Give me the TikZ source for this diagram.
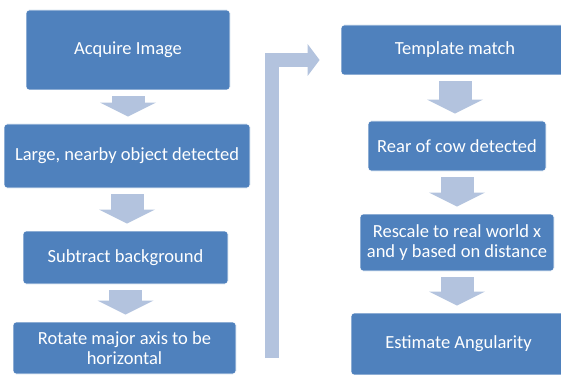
\documentclass[tikz,border=0pt]{standalone}
\usepackage{fontspec}
\setmainfont{Carlito}
\usetikzlibrary{arrows.meta}

\definecolor{boxblue}{RGB}{79,129,189}
\definecolor{arrowblue}{RGB}{179,195,222}

\tikzset{
	stepbox/.style={draw=white, line width=0.8pt, fill=boxblue, rounded corners=3pt, text=white, align=center, inner sep=0pt, font=\fontsize{18.5}{20.5}\selectfont},
	downarrow/.style={draw=arrowblue, line width=33pt, -{Triangle[length=14pt,width=56pt,line width=0pt]}, shorten <=6pt, shorten >=7pt},
	bentarrow/.style={draw=arrowblue, line width=14pt, line join=miter, -{Triangle[length=12pt,width=32pt,line width=0pt]}, shorten >=21pt}
}

\begin{document}
\begin{tikzpicture}[x=1pt,y=-1pt]
		\useasboundingbox (0,0) rectangle (561,374);
		\clip (0,0) rectangle (561,374);
		
		%left column
		\node[stepbox, minimum width=204pt, minimum height=80pt] (acquire) at (128,50) {Acquire Image};
		\node[stepbox, minimum width=246pt, minimum height=64pt] (nearby) at (127,156) {Large, nearby object detected};
		\node[stepbox, minimum width=205pt, minimum height=53pt] (subtract) at (125.5,257.5) {Subtract background};
		\node[stepbox, minimum width=223pt, minimum height=52pt] (rotate) at (124.5,348) {Rotate major axis to be\\horizontal};
		
		%right column
		\node[stepbox, minimum width=228pt, minimum height=50pt] (template) at (455,50) {Template match};
		\node[stepbox, minimum width=178pt, minimum height=50pt] (rear) at (457,146) {Rear of cow detected};
		\node[stepbox, minimum width=194pt, minimum height=57pt] (rescale) at (457,242.5) {Rescale to real world x\\and y based on distance};
		\node[stepbox, minimum width=215pt, minimum height=62pt] (angularity) at (458.5,344) {Estimate Angularity};
		
		%arrows down
		\draw[downarrow] (acquire.south) -- (acquire.south |- nearby.north);
		\draw[downarrow] (nearby.south) -- (nearby.south |- subtract.north);
		\draw[downarrow] (subtract.south) -- (subtract.south |- rotate.north);
		\draw[downarrow] (template.south) -- (template.south |- rear.north);
		\draw[downarrow] (rear.south) -- (rear.south |- rescale.north);
		\draw[downarrow] (rescale.south) -- (rescale.south |- angularity.north);
		
		%bent arrow to the right column
		\coordinate (bendfoot) at (272,358);
		\draw[bentarrow] (bendfoot) |- ([yshift=-10pt]template.west);
		
\end{tikzpicture}
\end{document}
